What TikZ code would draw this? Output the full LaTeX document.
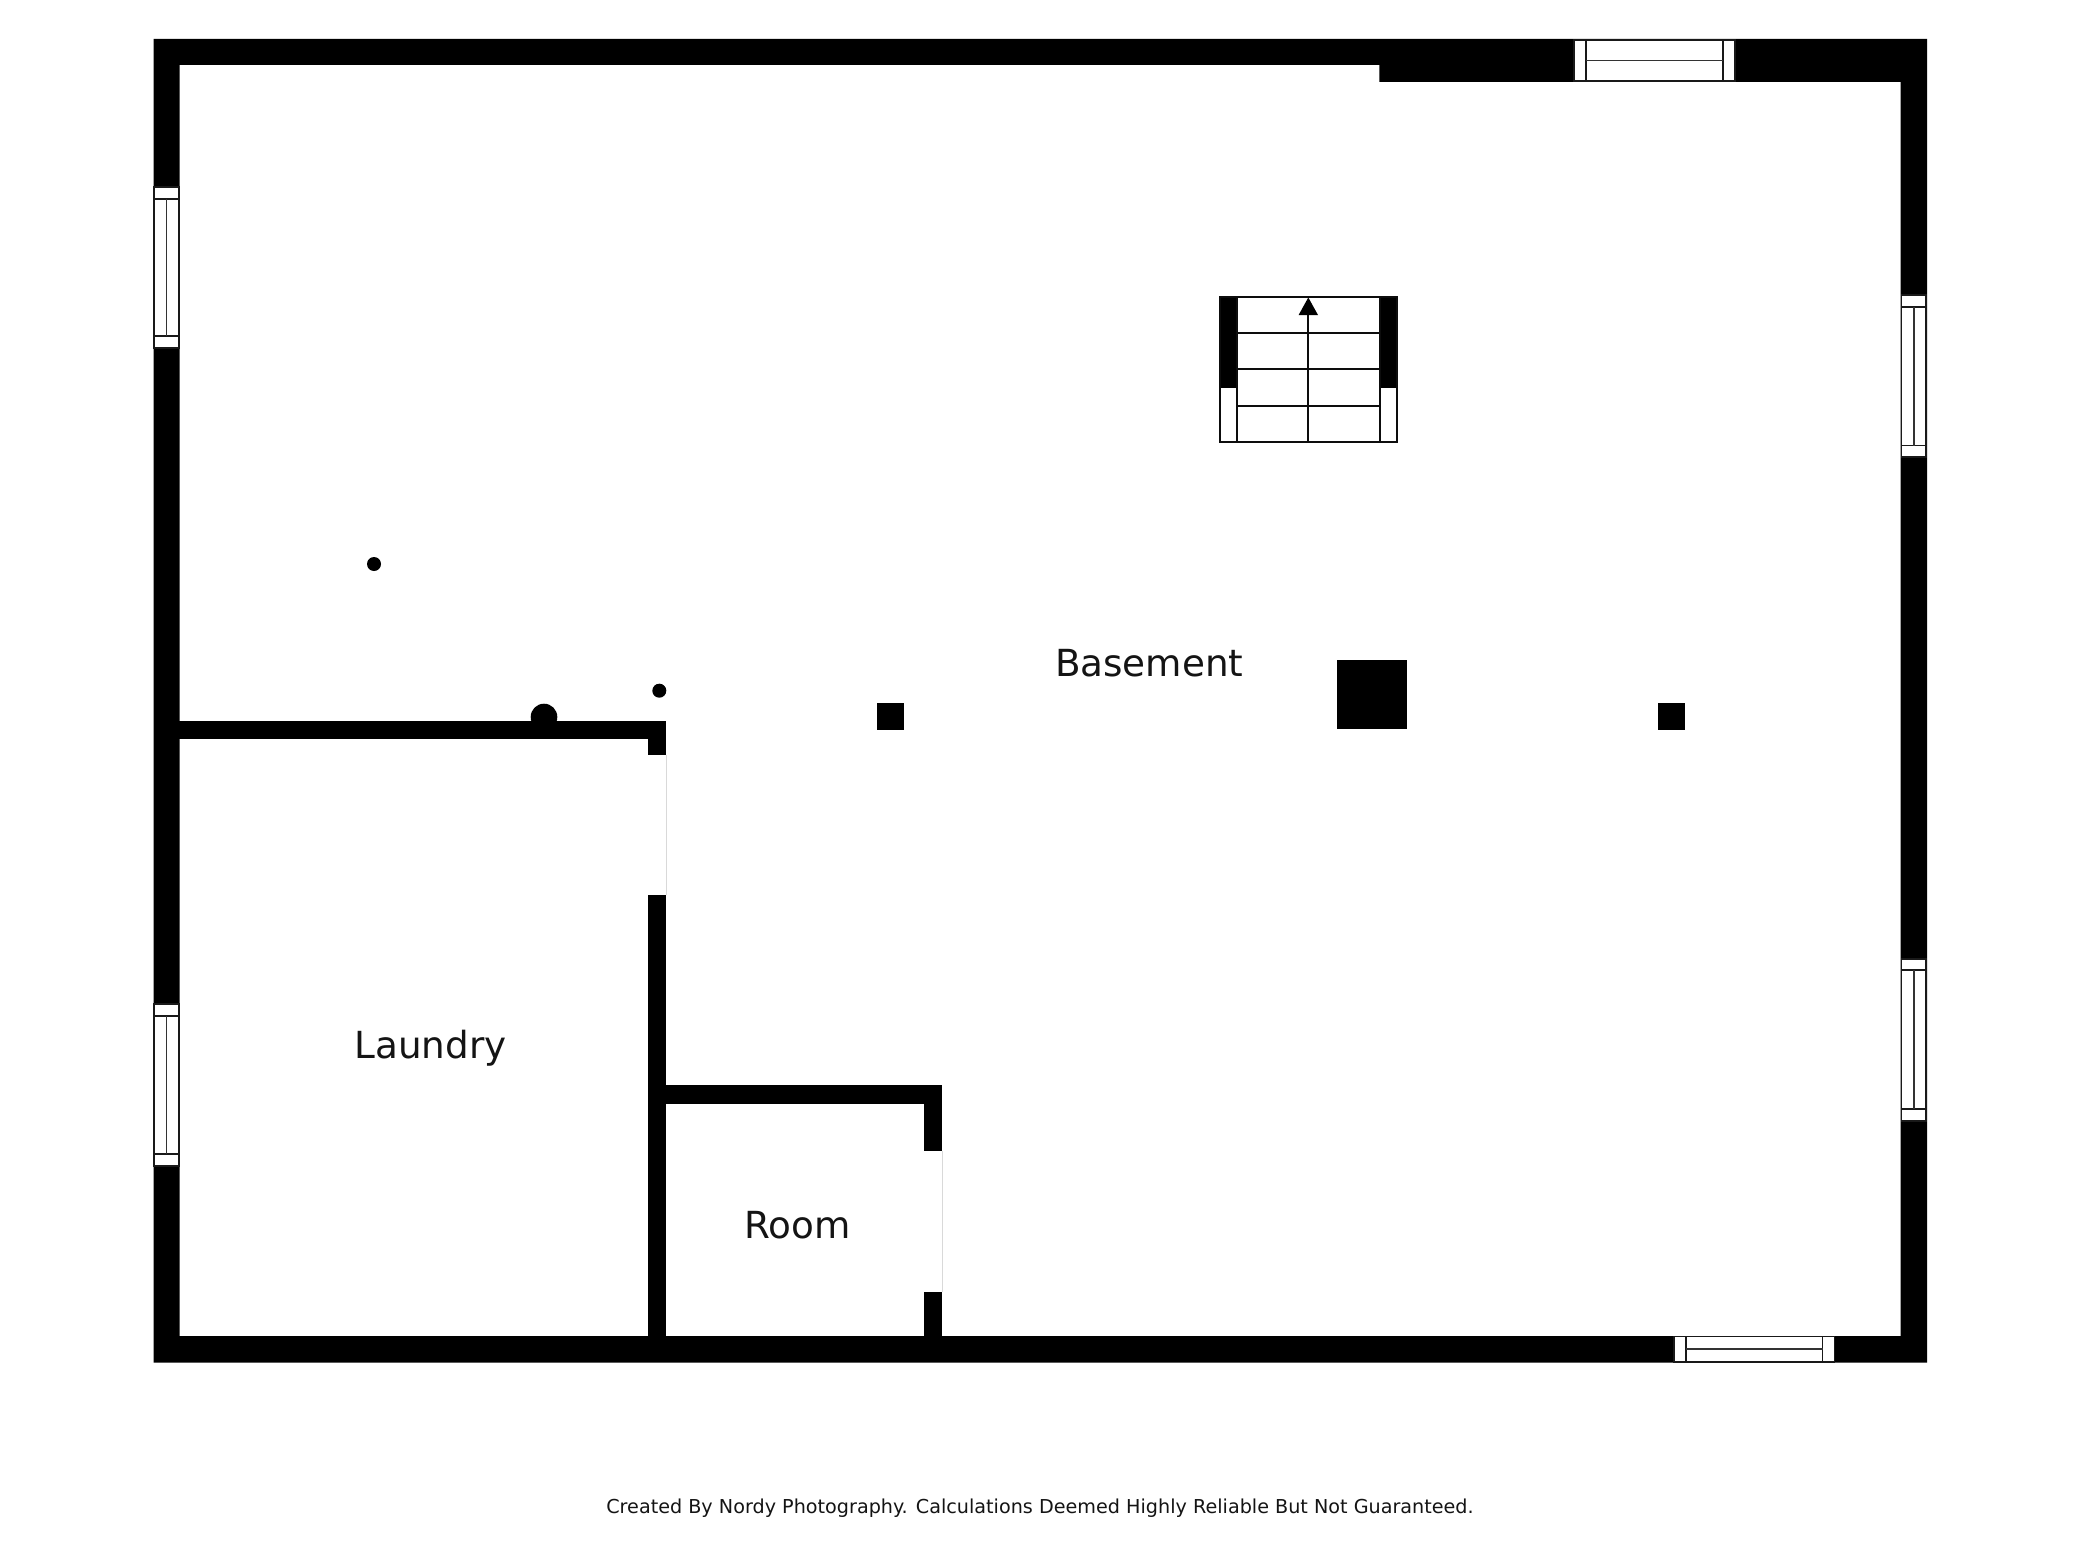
\documentclass[tikz,border=0pt]{standalone}
\usepackage{fontspec}
\setmainfont{DejaVu Sans}
\definecolor{doorline}{gray}{0.85}
\tikzset{
  wall/.style={fill=black,draw=none},
  winline/.style={draw=black!90,line width=1.7pt},
  winmid/.style={draw=black!80,line width=1.7pt},
  winbox/.style={fill=white,draw=black!90,line width=1.7pt},
  room/.style={inner sep=0pt,anchor=base,text=black!92,font=\fontsize{37.3}{38}\selectfont},
  foot/.style={inner sep=0pt,text=black!92,font=\fontsize{19.18}{20}\selectfont},
  stairline/.style={draw=black!95,line width=1.7pt}
}
\newcommand{\hwin}[4]{% x0,x1,y0,y1
  \draw[winbox] (#1,#3) rectangle (#2,#4);
  \draw[winline] (#1+12,#3) -- (#1+12,#4);
  \draw[winline] (#2-12,#3) -- (#2-12,#4);
  \draw[winmid] (#1+12,#3/2+#4/2) -- (#2-12,#3/2+#4/2);
}
\newcommand{\vwin}[4]{% x0,x1,y0,y1
  \draw[winbox] (#1,#3) rectangle (#2,#4);
  \draw[winline] (#1,#3+11.5) -- (#2,#3+11.5);
  \draw[winline] (#1,#4-11.8) -- (#2,#4-11.8);
  \draw[winmid] (#1/2+#2/2,#3+11.5) -- (#1/2+#2/2,#4-11.8);
}
\begin{document}
\begin{tikzpicture}[x=1pt,y=-1pt]
\useasboundingbox (0,0) rectangle (2080,1560);
\fill[white] (0,0) rectangle (2080,1560);
% outer walls
\fill[wall,even odd rule] (153.5,39) rectangle (1927,1362.5)
  (179.5,65) -- (1379.3,65) -- (1379.3,82) -- (1900.7,82) -- (1900.7,1336) -- (179.5,1336) -- cycle;
% laundry wall
\fill[wall] (179,721) rectangle (666,739);
\fill[wall] (648,721) rectangle (666,754.7);
\fill[wall] (648,895.3) rectangle (666,1340);
\fill[wall] (544,717) circle (13.3);
% room walls
\fill[wall] (648,1085.3) rectangle (942.3,1104);
\fill[wall] (924.3,1085.3) rectangle (942.3,1150.7);
\fill[wall] (924.3,1291.7) rectangle (942.3,1340);
% door edges
\draw[doorline,line width=0.8pt] (666,754.7) -- (666,895.3);
\draw[doorline,line width=0.8pt] (942.3,1150.7) -- (942.3,1291.7);
% columns and dots
\fill[wall] (877,703) rectangle (903.5,729.5);
\fill[wall] (1337,660.3) rectangle (1407,729.3);
\fill[wall] (1658,703) rectangle (1685,729.5);
\fill[wall] (374,564) circle (7);
\fill[wall] (659.3,690.7) circle (7);
% windows
\hwin{1573.8}{1735.2}{39.8}{81.3}
\hwin{1673.8}{1834.5}{1336.5}{1361.8}
\vwin{154.2}{178.8}{187.2}{347.8}
\vwin{154.2}{178.8}{1004.3}{1165.7}
\vwin{1901.4}{1926.3}{295.3}{457.3}
\vwin{1901.4}{1926.3}{958.7}{1120.7}
% stairs
\fill[wall] (1219.5,296.7) rectangle (1237.3,388.3);
\fill[wall] (1380,296.7) rectangle (1397.3,388.3);
\draw[stairline] (1220,297.3) rectangle (1396.7,442);
\draw[stairline] (1237.3,297.3) -- (1237.3,442);
\draw[stairline] (1380,297.3) -- (1380,442);
\draw[stairline] (1237.3,333) -- (1380,333);
\draw[stairline] (1237.3,369.3) -- (1380,369.3);
\draw[stairline] (1237.3,405.7) -- (1380,405.7);
\draw[stairline] (1308.3,315) -- (1308.3,442);
\fill[wall] (1308.3,297.5) -- (1318,315) -- (1298.6,315) -- cycle;
% labels
\node[room] (basement) at (1149.2,676.7) {Basement};
\node[room] (laundry) at (430.5,1058.3) {Laundry};
\node[room] (roomlabel) at (797.5,1238.5) {Room};
\node[foot] (credit) at (1040,1508) {Created By Nordy Photography. Calculations Deemed Highly Reliable But Not Guaranteed.};
\end{tikzpicture}
\end{document}
